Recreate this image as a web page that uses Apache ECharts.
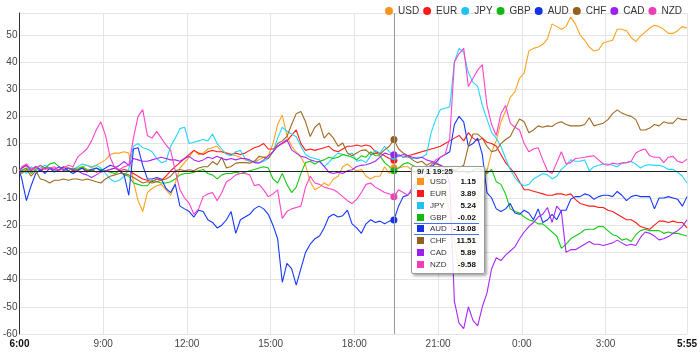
<!DOCTYPE html>
<html><head><meta charset="utf-8">
<script src="https://cdn.jsdelivr.net/npm/echarts@6/dist/echarts.min.js"></script>
<style>html,body{margin:0;padding:0;background:#fff}#c{width:700px;height:352px}</style>
</head><body><div id="c"></div>
<script>
// Currencies (legend order)
const names = ['USD','EUR','JPY','GBP','AUD','CHF','CAD','NZD'];
const colors = ['#f7941d','#ff1a1a','#1fc3f3','#12b812','#1432e8','#93601e','#9a22f0','#f23cb8'];

// Sample times: minutes after 6:00 (6:00, then every 10 minutes from 6:05 to 5:55)
const times = [0];
for (let t = 5; t <= 1435; t += 10) times.push(t);

const usd = [0,
 0.5,1,-0.5,1.5,0,1, 0.5,1,0,1.5,1,0.5, 1,1.5,2,1,2,3, 4,6,6.5,6.5,7,6.5,
 -4,-11,-15,-8,-6.5,-5.5, -5,-7,-9,-4.5,1,3, 5,7.5,6,6.5,8,8.5, 9,7,6.5,6,5.5,5,
 4,3.5,3.5,4,5,5.5, 10,17,20.5,13,9,7, 5,2,-4,-7,-6,-4.5, -5.5,-3,-2,1.5,2.5,1,
 0,0.5,-2,-3,-2,-2, 1.5,-1,1.15,1,1.5,1.5, 0,-1,-3,-2,-4,-5, -6,-8,-15,-25,-38,-30,
 -25,-15,-10,-5,0,7, 11,18,22,27,29,34, 36,44,45,45.5,46.5,48.5, 54,53,52,53,56.5,54,
 50,48,45.5,44,44.5,47, 47.5,48,52,52,51.5,49, 47.5,49.5,51,52.5,53.5,53, 52,50.5,50.5,51.5,53,52.5];
const eur = [0,
 1,2,0.5,1.5,0,1, 1,0,1.5,0.5,1,0, 0.5,1,0,0.5,-0.5,0, 0,0.5,1,0,0.5,0,
 -1,-2,-3,-3.5,-4,-3, -3.5,-2,0,1.5,3,4.5, 6,7.5,6.5,6,7,7.5, 7,7,6.5,6,6.5,6,
 6.5,7.5,8.5,9,10,8, 8,9,10,11,13,15, 10,7.5,8,7.5,8,8.5, 9,7.5,7,8,9,9,
 9.5,9,9.5,9,7,6.5, 5.5,4.5,3.89,6,5,5.5, 6,6.5,7,7.5,8,8.5, 9,10,11,12,13,11,
 14,12,11,12,10.5,10, 9,6,3,1,-1,-4, -7,-7,-7.5,-8,-8.5,-9, -9,-8.5,-8.5,-9,-8.5,-10.5,
 -12,-12.5,-13,-13,-13.5,-13.5, -14.5,-15,-16,-17,-18,-18, -19,-20.5,-21,-21.5,-20,-18.5, -18.5,-19,-18.5,-19,-19,-21];
const jpy = [0,
 0.5,-1,1.5,0,1,2, 1,0,1.5,0.5,1,0.5, 1.5,2.5,2,1.5,2,1, -1,-3,-4,-3.5,-2,0.5,
 9,10,8.5,8,7,4.5, 3,3.5,9,12,15.5,16, 10,10.5,11,11.5,11,13.5, 10,8,6,5.5,7,7.5,
 4.5,3.5,3.5,3,3.5,4.5, 7,12,16,14.5,13.5,12.5, 9,6,5,4.5,4,1.5, 3,5,6.5,6,5.5,6.5,
 3.5,4,3,5.5,7.5,6.5, 9,7,5.24,6,5,5, 4.5,5,5,6,14,19, 22.5,23,23.5,40,45,43.5,
 36,32.5,31,24,19,14, 12,9,4.5,0.5,-2.5,-4.5, -5.5,-5,-3,-2,-1,-1.5, -3,-2,0.5,2,4,3.5,
 3.5,4,0,1.5,2,2.5, 2.5,2,1.5,2.8,3,3.4, 2.5,1,2,2.2,2,2, 1.5,0.5,0.5,-0.5,-2,-4.5];
const gbp = [0,
 0,1,-1,0.5,2,1, 2.5,3,1.5,0.5,0,1, 0.5,1.5,0.5,0,1,0.5, 0,-0.5,-1,0,-1.5,-2,
 -4.5,-5,-5.5,-5.5,-3.5,-4, -4.5,-4.5,-4,-3,-1.5,-1, -1,-0.5,0,0.5,-1,-1.5, -3,-1.5,-1,-1,-0.5,-1,
 -0.5,0,0.5,1,1.5,1, -3,-4.5,-1,-5,-8,-6, -1,3,3.5,2.5,3.5,4, 5,4.5,5,6,5.5,5,
 4,5.5,5,7,5.5,5.5, 3,1.5,-0.02,1,2.5,3, 2,1,0.5,1,2,1, 1,0,-1,0.5,-0.5,0,
 -1,0,1,0,-1,0.5, -4,-5,-8.5,-14,-15,-15.5, -17,-18,-18.5,-19.5,-19.5,-21, -22.5,-24,-28.5,-27,-25,-24,
 -23,-21.7,-21.5,-21.5,-20.5,-20.5, -22,-23.5,-24,-25.5,-25,-26, -23.5,-22,-21.5,-22,-22,-22, -23,-22.5,-23,-23,-23.5,-24];
const aud = [0,
 -3,-11,-5.5,-1,0.5,-1, 1,-0.5,0.5,1.5,0,-1, 0,1,-0.5,0.5,1,0, 1,2,1.5,0,-1.5,-9,
 8,8.5,2,-3,-3,-2.5, -3,-6.5,-8,-5,-13,-14, -15,-17,-14.5,-15,-18,-19, -21,-20,-18,-15,-23,-18,
 -17,-16,-14,-13,-14,-16, -20,-25,-41,-34,-36,-42, -36,-30,-27,-25,-24,-21, -17,-16,-17,-16.5,-14.5,-19.5,
 -21,-23,-19.5,-18,-19,-18.5, -19.5,-18.5,-18.08,-13,-9.5,-9, -7,-5,-3,-1,1,3, 5,6,7,17,20,18,
 9,10,12,6,-8,-10, -14,-15,-14,-12,-15.5,-16, -14.5,-15.5,-18,-14,-19,-18, -16,-18,-14.5,-14.5,-10.5,-9.5,
 -9.5,-8.5,-9,-10.5,-9.5,-9, -9,-9.5,-7.6,-9,-11,-9.5, -9,-9.5,-9.5,-9.5,-14,-10, -10,-9.5,-10,-10.5,-13,-9.5];
const chf = [0,
 -1,0.5,-2,0,-3,-3.5, -4.5,-3.5,-3.5,-3,-3.5,-3, -3,-3.5,-3,-3.5,-4,-4.5, -3,-2,-1.5,-1,-1,-1.5,
 -2.5,-3.5,-4.5,-4,-4.5,-4, -3.5,-3,-2,0,0.5,0, 0.4,0,1,1.5,1.5,3.4, 2.2,5,1,1.6,2.8,3,
 3,2.8,3.5,5.3,5,4.5, 7,10,11,12.6,17,21, 21.8,18,12.6,16,17.5,12, 13.9,12,9,10.2,6.5,5.5,
 6.5,7.5,7.7,6,6.5,6, 7.7,9,11.51,8,6.5,5.5, 4,3,3.5,2,3,2.5, 2,1,1.5,0,1,2,
 9,13.5,13.5,12,9,7, 7.5,10,11.5,12.6,16,19, 18,14,15,16.5,16,16.5, 16.3,17.5,18,17,16.5,16.5,
 16.5,17,19.5,16.5,17,17.5, 18.8,21,22.4,21.2,20.5,20, 18.8,15,15,15.7,17,16.5, 18,17.5,17.5,19.4,18.8,18.8];
const cad = [0,
 1,2,0,1.5,0.5,1, 1,0.5,1.5,0,1,0.5, 0,-1,-1.5,-2.5,-1.5,-0.5, 0,0.5,1,2,3.4,2,
 4.5,4,3.5,3.5,4,4.5, 5,4.5,4,4,3.5,4.5, 5.3,4,3.4,4,5,4.5, 5.3,4.5,4,4.5,4,4.5,
 4.5,4,3,2.8,4,5.5, 7,9,10.2,11.4,7.7,6.5, 5.3,5,4,3.5,3.4,1.6, -0.5,-1,-0.5,-1,0,0.4,
 1.6,2,2.2,2.8,3.5,5, 6.5,6,5.89,5.3,6,5.5, 5,4.5,5,4,3.5,3, 2,1,-5,-48,-56,-58,
 -50,-55,-57,-50,-45,-36, -32,-33,-31,-29.5,-28,-25, -22.5,-20.5,-19,-17,-16,-13.5, -19,-13,-15,-30,-29,-29,
 -28,-27,-26,-27,-27,-27.5, -27,-26.5,-25.5,-26.5,-27.5,-27, -27.5,-24.5,-22.5,-23,-24,-25.4, -25,-24.2,-23,-22,-20.5,-18];
const nzd = [0,
 1.5,2.5,0.5,1,2,0.5, 1,1.5,0,1,2,1.5, 5,6.5,8,11,15,18, 13,5,1,0.5,1.5,2,
 12,20,22.5,13,12,14.5, 12,9.5,7.5,0,-7,-10, -12,-16,-14,-9.5,-8.5,-8, -11,-8,-4,-3,-1.5,-1,
 -1,-1.5,-5.5,-5,-7,-9.5, -8.5,-7,-17.5,-15,-14,-13.5, -13,-6,-2,-4.5,-5,-6, -6.5,-7,-8,-9.5,-11,-12,
 -10.5,-8,-5,-4.5,-6,-7, -8,-8.5,-9.58,-7,-8,-9, -6,-4,-3,-1,2,4, 5,6,12,40,43,45,
 31,34,37,39,24,17, 13,21,24,17.5,16,15, 10,7,8,8.5,4,0, -1,3,7,2.5,3,4.5,
 4.7,5,5.3,5.5,4,2.5, 2,2.8,2.5,2.8,3,3.5, 6.5,7.5,8,5.5,5,5, 3,5,5.3,3.5,3,4.3];

const values = [usd, eur, jpy, gbp, aud, chf, cad, nzd];
const tipSeries = 'AUD';      // series under the pointer in the reference
const tipTime = 805;          // 19:25

const FONT = "Arial, 'Liberation Sans', sans-serif";
function fmtTime(t) {
  const m = 360 + t;
  const h = Math.floor(m / 60) % 24;
  const mm = m % 60;
  return h + ':' + String(mm).padStart(2, '0');
}
function fmtDate(t) { return (360 + t) >= 1440 ? '9/ 2' : '9/ 1'; }

const chart = echarts.init(document.getElementById('c'), null, {renderer: 'canvas'});

const series = names.map((n, k) => {
  const s = {
    name: n, type: 'line',
    data: times.map((t, i) => [t, values[k][i]]),
    showSymbol: false, symbol: 'circle', symbolSize: 7,
    lineStyle: {width: 1.1, color: colors[k]},
    itemStyle: {color: colors[k]},
    emphasis: {scale: false, focus: 'none', lineStyle: {width: 1.1}},
    animation: false
  };
  if (k === 0) {
    s.markLine = {
      silent: true, symbol: ['none', 'none'], label: {show: false},
      lineStyle: {color: '#222', width: 1, type: 'solid'},
      emphasis: {disabled: true},
      data: [{yAxis: 0}], animation: false
    };
  }
  return s;
});

chart.setOption({
  animation: false,
  color: colors,
  textStyle: {fontFamily: FONT},
  grid: {left: 18, right: 12, top: 13, bottom: 18, containLabel: false},
  legend: {
    data: names, icon: 'circle', itemWidth: 8, itemHeight: 8, itemGap: 4,
    right: 13, top: 1,
    textStyle: {fontSize: 10, color: '#333', fontFamily: FONT}
  },
  tooltip: {
    trigger: 'axis', triggerOn: 'none', alwaysShowContent: true,
    position: [411, 166],
    backgroundColor: 'rgba(255,255,255,0.85)', borderColor: '#999', borderWidth: 1,
    padding: [0, 8, 3, 5],
    textStyle: {fontSize: 8, color: '#333', fontFamily: FONT},
    extraCssText: 'box-shadow:2px 2px 3px rgba(0,0,0,0.35);border-radius:2px;line-height:9px;',
    axisPointer: {type: 'line', lineStyle: {color: '#999', width: 1, type: 'solid'}, label: {show: false}},
    formatter: function (params) {
      const t = params[0].value[0];
      let html = '<div style="font-weight:bold;font-size:8px;line-height:9px;color:#222;white-space:nowrap">' +
        fmtDate(t) + ' ' + fmtTime(t) + '</div>';
      params.forEach(p => {
        const hl = p.seriesName === tipSeries;
        html += '<div style="box-sizing:border-box;display:flex;align-items:center;height:11.75px;font-size:8px;line-height:9px;white-space:nowrap;' +
          (hl ? 'border-top:1px solid #4a72ee;border-bottom:1px solid #4a72ee;margin:0 -3px 0 -3px;padding:0 3px;' : '') + '">' +
          '<span style="display:inline-block;flex:none;width:7px;height:7px;background:' + p.color + ';margin-right:6px"></span>' +
          '<span style="display:inline-block;flex:none;width:21px;color:#333">' + p.seriesName + '</span>' +
          '<span style="display:inline-block;flex:none;width:25px;text-align:right;color:#111;font-weight:bold">' +
          p.value[1].toFixed(2) + '</span></div>';
      });
      return html;
    }
  },
  xAxis: {
    type: 'value', min: 0, max: 1435, interval: 180,
    axisLine: {show: false}, axisTick: {show: false},
    splitLine: {show: true, lineStyle: {color: '#e4e4e4', width: 1}},
    axisLabel: {
      fontSize: 10, color: '#444', margin: 5, fontFamily: FONT,
      showMinLabel: true, showMaxLabel: true,
      formatter: function (v) {
        const s = fmtTime(v);
        return (v === 0 || v === 1435) ? '{b|' + s + '}' : s;
      },
      rich: {b: {fontWeight: 'bold', color: '#111', fontSize: 10, fontFamily: FONT}}
    }
  },
  yAxis: {
    type: 'value', min: -60, max: 58, interval: 10,
    axisLine: {show: true, lineStyle: {color: '#333', width: 1}},
    axisTick: {show: false},
    axisLabel: {fontSize: 10, color: '#444', margin: 2, showMaxLabel: false, fontFamily: FONT},
    splitLine: {lineStyle: {color: '#e4e4e4', width: 1}}
  },
  series: series
});

setTimeout(function () {
  chart.dispatchAction({type: 'showTip', seriesIndex: names.indexOf(tipSeries), dataIndex: times.indexOf(tipTime)});
}, 50);
</script>
</body></html>
